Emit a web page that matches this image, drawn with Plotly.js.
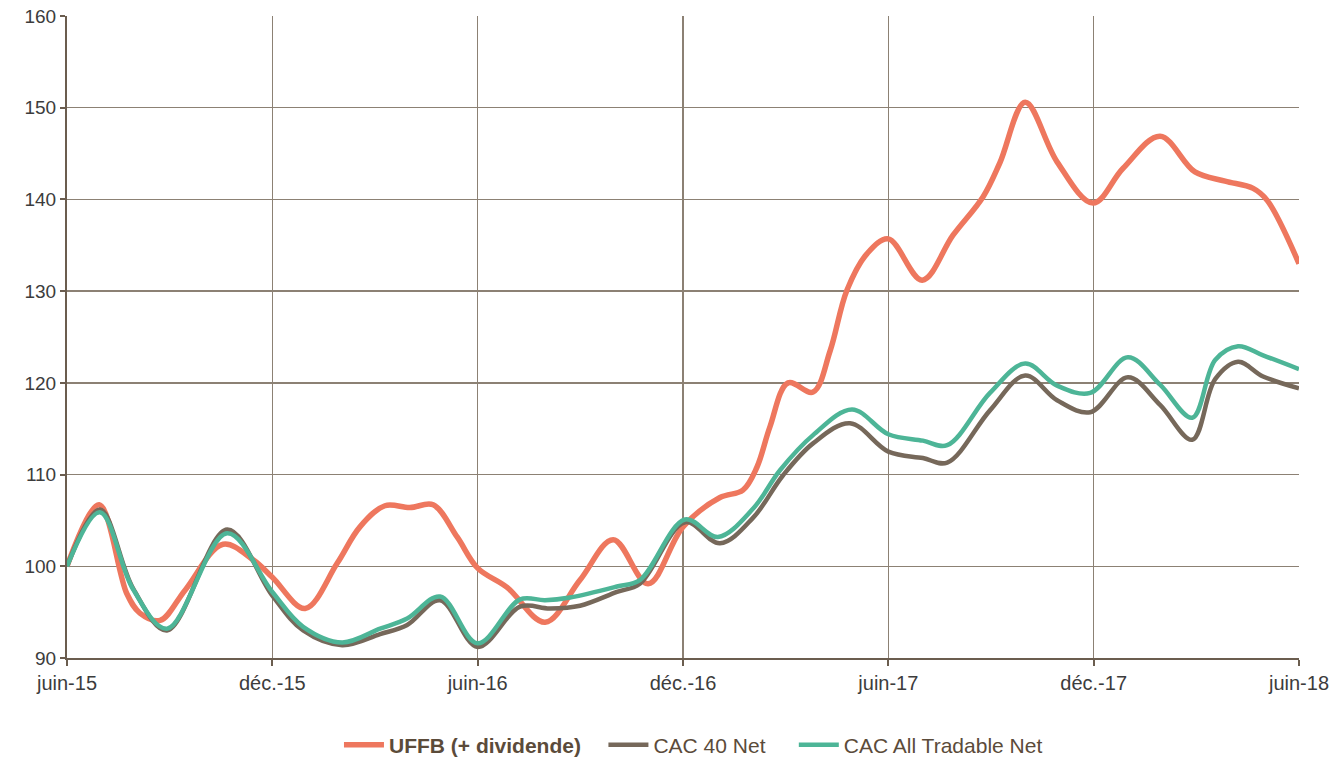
<!DOCTYPE html>
<html>
<head>
<meta charset="utf-8">
<script src="https://cdn.plot.ly/plotly-3.0.1.min.js"></script>
<style>html,body{margin:0;padding:0;background:#fff;}#chart{width:1333px;height:758px;}</style>
</head>
<body>
<div id="chart"></div>
<script>
// x = months elapsed since juin-15
const tickVals = [0, 6, 12, 18, 24, 30, 36];
const tickLabels = ['juin-15', 'déc.-15', 'juin-16', 'déc.-16', 'juin-17', 'déc.-17', 'juin-18'];
const yTickVals = [90, 100, 110, 120, 130, 140, 150, 160];

const uffbX = [0, 0.94, 1.75, 2.13, 2.72, 3.45, 4.56, 5.44, 6.0, 6.96, 7.89, 8.56, 9.29, 10.02, 10.7, 11.4, 12.0, 12.86, 13.97, 14.99, 15.96, 16.98, 18.0, 19.08, 19.75, 20.16, 20.54, 21.07, 21.8, 22.3, 22.79, 23.38, 24.0, 24.99, 25.89, 26.77, 27.26, 28.0, 28.93, 29.98, 30.86, 31.94, 32.96, 33.84, 34.66, 35.07, 36.0];
const uffbY = [100.0, 106.7, 97.0, 94.9, 94.1, 97.4, 102.4, 100.7, 98.8, 95.4, 100.3, 104.3, 106.6, 106.4, 106.7, 103.2, 99.8, 97.7, 93.9, 98.5, 102.9, 98.1, 104.3, 107.5, 108.3, 110.8, 115.2, 120.0, 119.0, 123.5, 130.1, 134.1, 135.7, 131.2, 136.1, 140.3, 144.0, 150.6, 144.1, 139.6, 143.4, 146.9, 143.0, 142.0, 141.2, 139.9, 133.0];

const cac40X = [0, 0.96, 1.93, 2.92, 4.68, 6.0, 6.9, 8.04, 9.15, 9.94, 10.9, 12.0, 13.24, 14.11, 14.99, 16.07, 16.74, 18.06, 19.08, 20.05, 20.92, 21.8, 22.88, 24.0, 25.01, 25.72, 26.97, 28.0, 28.93, 29.9, 31.0, 31.94, 32.88, 33.55, 34.22, 34.95, 36.0];
const cac40Y = [100.0, 106.2, 97.6, 93.0, 104.0, 96.8, 93.0, 91.4, 92.6, 93.6, 96.3, 91.2, 95.6, 95.4, 95.7, 97.2, 98.1, 104.8, 102.5, 105.3, 109.9, 113.4, 115.6, 112.5, 111.8, 111.3, 117.0, 120.8, 118.1, 116.8, 120.6, 117.6, 113.8, 120.4, 122.3, 120.7, 119.4];

const catX = [0, 0.96, 1.93, 2.92, 4.68, 6.0, 6.9, 8.04, 9.15, 9.94, 10.9, 12.0, 13.24, 13.97, 14.7, 16.07, 16.74, 18.06, 19.02, 20.05, 20.84, 21.8, 22.94, 24.0, 25.01, 25.72, 26.97, 28.0, 28.93, 29.9, 31.0, 31.94, 32.88, 33.55, 34.22, 34.95, 36.0];
const catY = [100.0, 105.9, 97.5, 93.2, 103.6, 97.2, 93.4, 91.7, 93.2, 94.3, 96.7, 91.6, 96.4, 96.3, 96.6, 97.8, 98.5, 105.1, 103.2, 106.3, 110.5, 114.3, 117.1, 114.4, 113.7, 113.2, 118.9, 122.1, 119.7, 118.9, 122.8, 119.8, 116.2, 122.5, 124.0, 123.0, 121.5];

const names = ['<b>UFFB (+ dividende)</b>', 'CAC 40 Net', 'CAC All Tradable Net'];
const colors = ['#ee775e', '#76685a', '#4db597'];
const pad = ['&nbsp;&nbsp;&nbsp;', '&nbsp;&nbsp;&nbsp;&nbsp;', ''];

const traces = [
  {x: uffbX, y: uffbY, i: 0, w: 5.5},
  {x: cac40X, y: cac40Y, i: 1, w: 4.5},
  {x: catX, y: catY, i: 2, w: 4.5}
].map(s => ({
  type: 'scatter', mode: 'lines', x: s.x, y: s.y, name: names[s.i] + pad[s.i],
  line: {color: colors[s.i], width: s.w, shape: 'spline', smoothing: 1}
}));

const gridColor = '#8c8174';
const axisColor = '#6b5d4f';
const layout = {
  width: 1333, height: 758,
  margin: {l: 67, r: 34, t: 16, b: 100, autoexpand: false},
  paper_bgcolor: '#fff', plot_bgcolor: '#fff',
  font: {family: 'Liberation Sans, Arial, sans-serif', size: 18, color: '#3c3c3c'},
  showlegend: true,
  legend: {
    orientation: 'h', x: 0.5085, xanchor: 'center', y: -0.1355, yanchor: 'middle',
    font: {family: 'Liberation Sans, Arial, sans-serif', size: 21, color: '#5b4b3a'},
    itemwidth: 40, tracegroupgap: 0
  },
  xaxis: {
    range: [0, 36], tickmode: 'array', tickvals: tickVals, ticktext: tickLabels,
    showgrid: true, gridcolor: gridColor, gridwidth: 1.4,
    showline: true, linecolor: axisColor, linewidth: 2,
    ticks: 'outside', ticklen: 6, tickcolor: axisColor, tickwidth: 2,
    zeroline: false, fixedrange: true,
    tickfont: {size: 20, color: '#3c3c3c'}
  },
  yaxis: {
    range: [90, 160], tickmode: 'array', tickvals: yTickVals,
    showgrid: true, gridcolor: gridColor, gridwidth: 1.4,
    showline: true, linecolor: axisColor, linewidth: 2,
    ticks: 'outside', ticklen: 5, tickcolor: axisColor, tickwidth: 2,
    zeroline: false, fixedrange: true,
    tickfont: {size: 19, color: '#3c3c3c'}
  }
};

Plotly.newPlot('chart', traces, layout, {displayModeBar: false, staticPlot: true});
</script>
</body>
</html>
